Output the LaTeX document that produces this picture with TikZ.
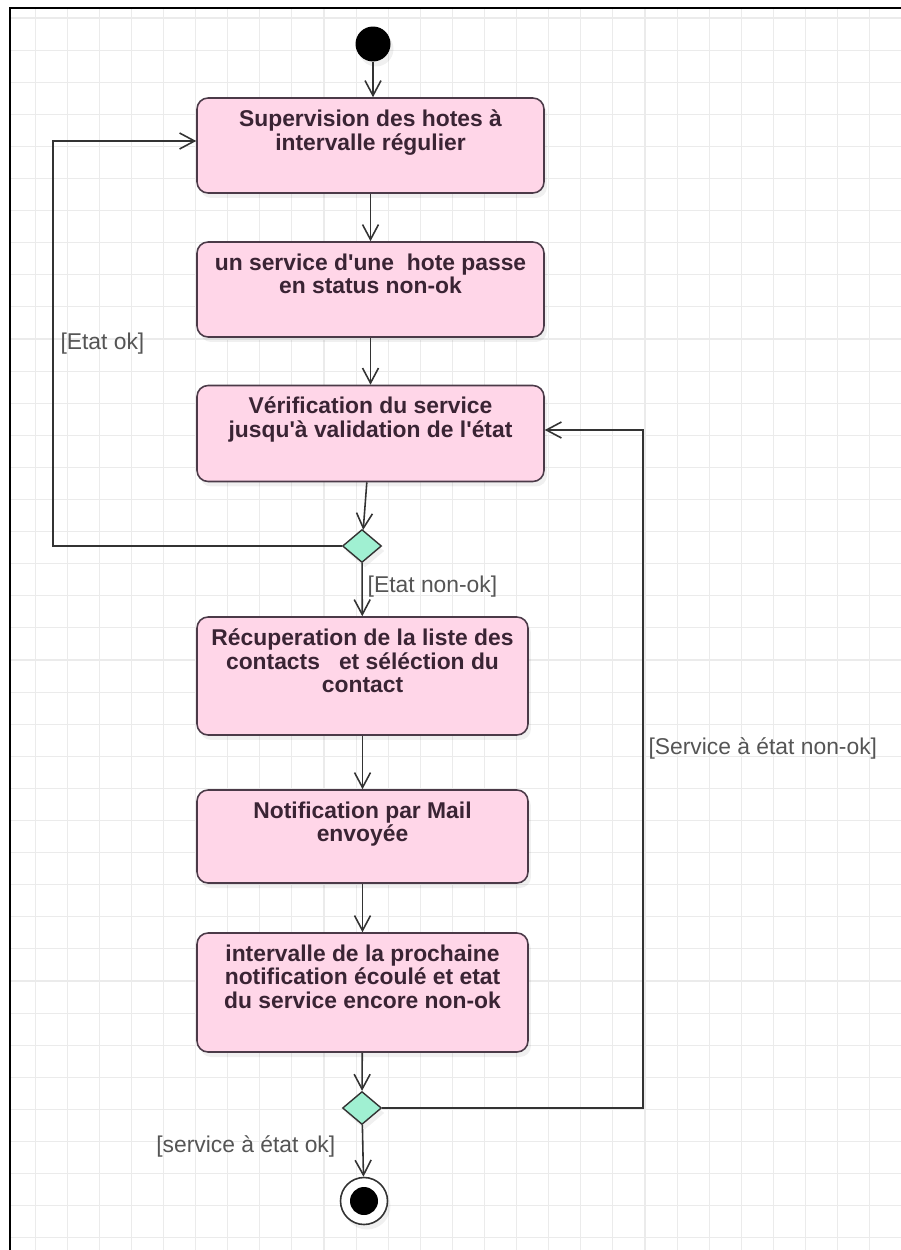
\documentclass[tikz,border=0pt]{standalone}
\usepackage{fontspec}
\setmainfont{Liberation Sans}
\usetikzlibrary{arrows.meta,shapes.geometric,shadows}

\definecolor{actfill}{HTML}{FFD6E8}
\definecolor{actline}{HTML}{4B3A48}
\definecolor{acttext}{HTML}{3A2434}
\definecolor{decfill}{HTML}{A0F0D2}
\definecolor{flowline}{HTML}{333333}
\definecolor{guardtext}{HTML}{555555}
\definecolor{gridline}{HTML}{EBEBEB}

\tikzset{
  softshadow/.style={drop shadow={shadow xshift=0.06cm, shadow yshift=-0.1cm, opacity=0.12}},
  act/.style={draw=actline, fill=actfill, line width=0.9pt, rounded corners=0.22cm, softshadow},
  actlabel/.style={anchor=north, yshift=-0.24cm, inner sep=0pt, align=center, text=acttext,
    font=\bfseries\fontsize{13}{13.5}\selectfont},
  decision/.style={diamond, draw=flowline, fill=decfill, line width=0.8pt, inner sep=0pt,
    minimum width=0.78cm, minimum height=0.66cm, softshadow},
  flow/.style={draw=flowline, line width=0.9pt, -{Straight Barb[length=0.3cm,width=0.32cm]}},
  guard/.style={text=guardtext, font=\fontsize{13}{14}\selectfont, inner sep=1pt},
}

\begin{document}
\begin{tikzpicture}[x=0.02cm, y=-0.02cm]
	%%%%% START %%%%%
	\useasboundingbox (0,0) rectangle (901,1250);
	
	% grid paper
	\foreach \gx in {1,...,27}
		\draw[gridline, line width=0.6pt] ({3+32.1*\gx},8) -- ({3+32.1*\gx},1250);
	\foreach \gy in {0,...,38}
		\draw[gridline, line width=0.6pt] (10,{18+32.1*\gy}) -- (901,{18+32.1*\gy});
	\draw[line width=1.7pt] (10,1250) -- (10,8) -- (901,8);
	
	% start
	\node[circle, fill=black, minimum size=0.7cm, inner sep=0pt, softshadow] (start) at (373,44) {};
	
	\node[act, minimum width=6.94cm, minimum height=1.9cm,
		label={[actlabel]north:{Supervision des hotes à\\intervalle régulier}}] (b1) at (370.5,145.5) {};
	\node[act, minimum width=6.94cm, minimum height=1.9cm,
		label={[actlabel]north:{un service d\textquotesingle une~ hote passe\\en status non-ok}}] (b2) at (370.5,289.5) {};
	\node[act, minimum width=6.94cm, minimum height=1.92cm,
		label={[actlabel]north:{Vérification du service\\jusqu\textquotesingle à validation de l\textquotesingle état}}] (b3) at (370.5,433.5) {};
	
	\node[decision] (d1) at (362,546) {};
	
	\node[act, minimum width=6.62cm, minimum height=2.36cm,
		label={[actlabel]north:{Récuperation de la liste des\\contacts~~~et séléction du\\contact}}] (b4) at (362.5,676) {};
	\node[act, minimum width=6.62cm, minimum height=1.86cm,
		label={[actlabel]north:{Notification par Mail\\envoyée}}] (b5) at (362.5,836.5) {};
	\node[act, minimum width=6.62cm, minimum height=2.38cm,
		label={[actlabel]north:{intervalle de la prochaine\\notification écoulé et etat\\du service encore non-ok}}] (b6) at (362.5,992.5) {};
	
	\node[decision] (d2) at (362,1108) {};
	
	% final state
	\node[circle, draw=flowline, fill=white, line width=0.9pt, minimum size=0.94cm, inner sep=0pt, softshadow] (stop) at (364,1201) {};
	\node[circle, fill=black, minimum size=0.56cm, inner sep=0pt] (stopdot) at (stop) {};
	
	\coordinate (lloop) at (53,141);
	\coordinate (rloop) at (643,430);
	
	\draw[flow] (start) -- (start |- b1.north);
	\draw[flow] (b1) -- (b2);
	\draw[flow] (b2) -- (b3);
	\draw[flow] (b3) -- (d1);
	\draw[flow] (d1) -- node[guard, anchor=west, pos=0.44, xshift=0.06cm] {[Etat non-ok]} (b4);
	\draw[flow] (d1.west) -| node[guard, anchor=west, pos=0.75, xshift=0.1cm] {[Etat ok]} (lloop) -- (b1.west |- lloop);
	\draw[flow] (b4) -- (b5);
	\draw[flow] (b5) -- (b6);
	\draw[flow] (b6) -- (d2);
	\draw[flow] (d2) -- node[guard, anchor=east, pos=0.41, xshift=-0.5cm] {[service à état ok]} (stop);
	\draw[flow] (d2.east) -| node[guard, anchor=west, pos=0.765, xshift=0.06cm] {[Service à état non-ok]} (rloop) -- (b3.east |- rloop);
	
	%%%%% END %%%%%
\end{tikzpicture}
\end{document}
